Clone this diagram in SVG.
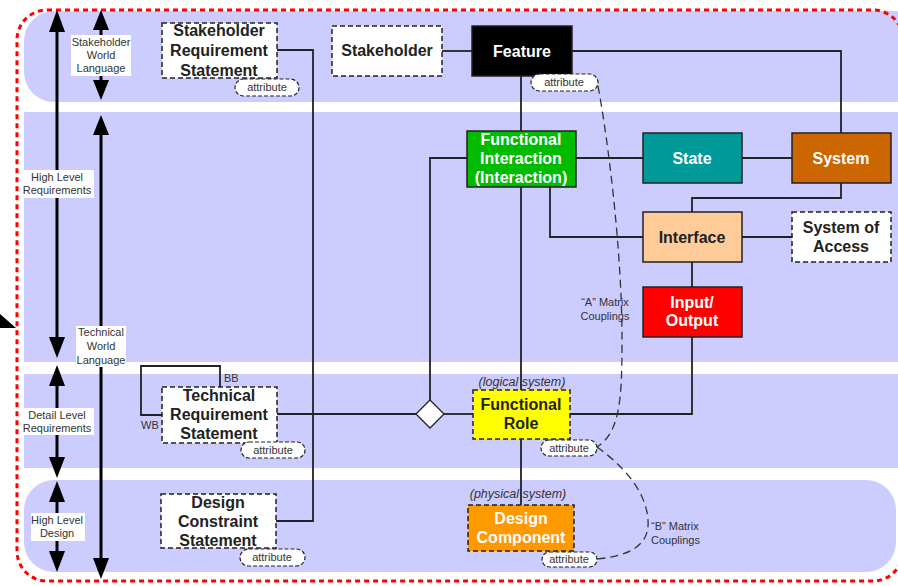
<svg xmlns="http://www.w3.org/2000/svg" width="898" height="586" viewBox="0 0 898 586">
<defs>
<style>
.band{fill:#ccccff}
.lbl{font-family:"Liberation Sans",Arial,sans-serif;font-size:11px;fill:#333;text-anchor:middle}
.lblbg{fill:#fff}
.ax{stroke:#000;stroke-width:3;fill:none}
.ah{fill:#000}
.box{stroke:#222;stroke-width:1.5}
.dash{stroke-dasharray:5 3}
.t{font-family:"Liberation Sans",Arial,sans-serif;font-size:16px;font-weight:bold;text-anchor:middle;fill:#222}
.tw{fill:#fff}
.pill{fill:#fff;stroke:#222;stroke-width:1.2;stroke-dasharray:4 2}
.pt{font-family:"Liberation Sans",Arial,sans-serif;font-size:11px;fill:#333;text-anchor:middle}
.c{stroke:#222;stroke-width:1.8;fill:none}
.cd{stroke:#333;stroke-width:1.3;fill:none;stroke-dasharray:8 5}
.it{font-family:"Liberation Sans",Arial,sans-serif;font-size:12.5px;font-style:italic;fill:#333;text-anchor:middle}
.sm{font-family:"Liberation Sans",Arial,sans-serif;font-size:11px;fill:#333}
</style>
</defs>
<rect width="898" height="586" fill="#fff"/>
<g id="bands">
<rect class="band" x="24" y="11" width="900" height="91" rx="30"/>
<rect class="band" x="24" y="112" width="880" height="250"/>
<rect class="band" x="24" y="374" width="880" height="94"/>
<rect class="band" x="24" y="480" width="872" height="92" rx="30"/>
</g>
<rect x="17" y="10" width="886" height="571" rx="30" fill="none" stroke="#ff0000" stroke-width="3" stroke-dasharray="5 4"/>
<polygon points="0,314 16,328 0,328" fill="#000"/>
<g id="scale-arrows">
<line class="ax" x1="57" y1="28" x2="57" y2="340"/>
<polygon class="ah" points="57,10 49,32 65,32"/>
<polygon class="ah" points="57,358 49,337 65,337"/>
<line class="ax" x1="57" y1="383" x2="57" y2="460"/>
<polygon class="ah" points="57,365 49,386 65,386"/>
<polygon class="ah" points="57,478 49,457 65,457"/>
<line class="ax" x1="57" y1="500" x2="57" y2="553"/>
<polygon class="ah" points="57,481 49,502 65,502"/>
<polygon class="ah" points="57,572 49,551 65,551"/>
<line class="ax" x1="101" y1="28" x2="101" y2="82"/>
<polygon class="ah" points="101,10 93,30 109,30"/>
<polygon class="ah" points="101,100 93,80 109,80"/>
<line class="ax" x1="101" y1="132" x2="101" y2="561"/>
<polygon class="ah" points="101,115 93,135 109,135"/>
<polygon class="ah" points="101,579 93,558 109,558"/>
<rect class="lblbg" x="71" y="35" width="60" height="41"/>
<text class="lbl" x="101" y="46">Stakeholder</text>
<text class="lbl" x="101" y="59">World</text>
<text class="lbl" x="101" y="72">Language</text>
<rect class="lblbg" x="21" y="170" width="73" height="28"/>
<text class="lbl" x="57" y="181">High Level</text>
<text class="lbl" x="57" y="194">Requirements</text>
<rect class="lblbg" x="76" y="326" width="50" height="41"/>
<text class="lbl" x="101" y="336">Technical</text>
<text class="lbl" x="101" y="350">World</text>
<text class="lbl" x="101" y="364">Language</text>
<rect class="lblbg" x="21" y="408" width="73" height="27"/>
<text class="lbl" x="57" y="419">Detail Level</text>
<text class="lbl" x="57" y="432">Requirements</text>
<rect class="lblbg" x="31" y="513" width="54" height="28"/>
<text class="lbl" x="57" y="524">High Level</text>
<text class="lbl" x="57" y="537">Design</text>
</g>
<g id="connectors">
<path class="c" d="M277,50 H313 V521 H276"/>
<path class="c" d="M442,51 H472"/>
<path class="c" d="M572,51 H841 V133"/>
<path class="c" d="M521,76 V131"/>
<path class="c" d="M576,158 H643"/>
<path class="c" d="M742,158 H792"/>
<path class="c" d="M841,183 V198 H692 V212"/>
<path class="c" d="M521,187 V390"/>
<path class="c" d="M550,187 V237 H643"/>
<path class="c" d="M467,158 H430 V400"/>
<path class="c" d="M742,237 H792"/>
<path class="c" d="M692,262 V287"/>
<path class="c" d="M692,337 V414 H570"/>
<path class="c" d="M277,414 H416" stroke-width="2.2"/>
<path class="c" d="M444,414 H473"/>
<path class="c" d="M521,439 V505"/>
<path class="c" d="M220,387 V366 H141 V415 H162"/>
<path class="cd" d="M598,86 C608,140 622,250 622,340 C622,400 620,432 597,447"/>
<path class="cd" d="M597,447 C622,465 646,490 648,520 C650,545 630,556 597,559"/>
<text class="sm" x="605" y="306" text-anchor="middle">“A” Matrix</text>
<text class="sm" x="605" y="320" text-anchor="middle">Couplings</text>
<text class="sm" x="651" y="530">“B” Matrix</text>
<text class="sm" x="651" y="544">Couplings</text>
<text class="sm" x="224" y="382" font-size="12">BB</text>
<text class="sm" x="141" y="429" font-size="12">WB</text>
<polygon points="430,400 444,414 430,428 416,414" fill="#fff" stroke="#222" stroke-width="1.3"/>
</g>
<g id="stakeholder-requirement-statement">
<rect class="box dash" x="162" y="23" width="115" height="55" fill="#fff"/>
<text class="t" x="219" y="36">Stakeholder</text>
<text class="t" x="219" y="56">Requirement</text>
<text class="t" x="219" y="76">Statement</text>
<rect class="pill" x="235" y="79" width="64" height="17" rx="8.5"/>
<text class="pt" x="267" y="91">attribute</text>
</g>
<g id="stakeholder">
<rect class="box dash" x="332" y="26" width="110" height="50" fill="#fff"/>
<text class="t" x="387" y="56">Stakeholder</text>
</g>
<g id="feature">
<rect class="box" x="472" y="26" width="100" height="50" fill="#000"/>
<text class="t tw" x="522" y="57">Feature</text>
<rect class="pill" x="531" y="74" width="67" height="17" rx="8.5" stroke-dasharray="none"/>
<text class="pt" x="564" y="86">attribute</text>
</g>
<g id="functional-interaction">
<rect class="box" x="467" y="131" width="109" height="56" fill="#00bb00"/>
<text class="t tw" x="521" y="145">Functional</text>
<text class="t tw" x="521" y="164">Interaction</text>
<text class="t tw" x="521" y="183">(Interaction)</text>
</g>
<g id="state">
<rect class="box" x="643" y="133" width="99" height="50" fill="#009999"/>
<text class="t tw" x="692" y="164">State</text>
</g>
<g id="system">
<rect class="box" x="792" y="133" width="99" height="50" fill="#cc6600"/>
<text class="t tw" x="841" y="164">System</text>
</g>
<g id="interface">
<rect class="box" x="643" y="212" width="99" height="50" fill="#ffcc99"/>
<text class="t" x="692" y="243">Interface</text>
</g>
<g id="system-of-access">
<rect class="box dash" x="792" y="212" width="99" height="50" fill="#fff"/>
<text class="t" x="841" y="233">System of</text>
<text class="t" x="841" y="252">Access</text>
</g>
<g id="input-output">
<rect class="box" x="643" y="287" width="99" height="50" fill="#ff0000"/>
<text class="t tw" x="692" y="308">Input/</text>
<text class="t tw" x="692" y="326">Output</text>
</g>
<g id="technical-requirement-statement">
<rect class="box dash" x="162" y="387" width="115" height="56" fill="#fff"/>
<text class="t" x="219" y="401">Technical</text>
<text class="t" x="219" y="420">Requirement</text>
<text class="t" x="219" y="439">Statement</text>
<rect class="pill" x="241" y="442" width="64" height="16" rx="8"/>
<text class="pt" x="273" y="454">attribute</text>
</g>
<g id="design-constraint-statement">
<rect class="box dash" x="161" y="494" width="115" height="54" fill="#fff"/>
<text class="t" x="218" y="508">Design</text>
<text class="t" x="218" y="527">Constraint</text>
<text class="t" x="218" y="546">Statement</text>
<rect class="pill" x="240" y="549" width="65" height="17" rx="8.5"/>
<text class="pt" x="272" y="561">attribute</text>
</g>
<g id="functional-role">
<text class="it" x="522" y="386">(logical system)</text>
<rect class="box dash" x="473" y="390" width="97" height="49" fill="#ffff00"/>
<text class="t" x="521" y="410">Functional</text>
<text class="t" x="521" y="429">Role</text>
<rect class="pill" x="541" y="440" width="56" height="16" rx="8"/>
<text class="pt" x="569" y="452">attribute</text>
</g>
<g id="design-component">
<text class="it" x="518" y="498">(physical system)</text>
<rect class="box dash" x="468" y="505" width="106" height="46" fill="#ff9900"/>
<text class="t tw" x="521" y="524">Design</text>
<text class="t tw" x="521" y="543">Component</text>
<rect class="pill" x="542" y="552" width="55" height="15" rx="7.5"/>
<text class="pt" x="569" y="563">attribute</text>
</g>
</svg>
